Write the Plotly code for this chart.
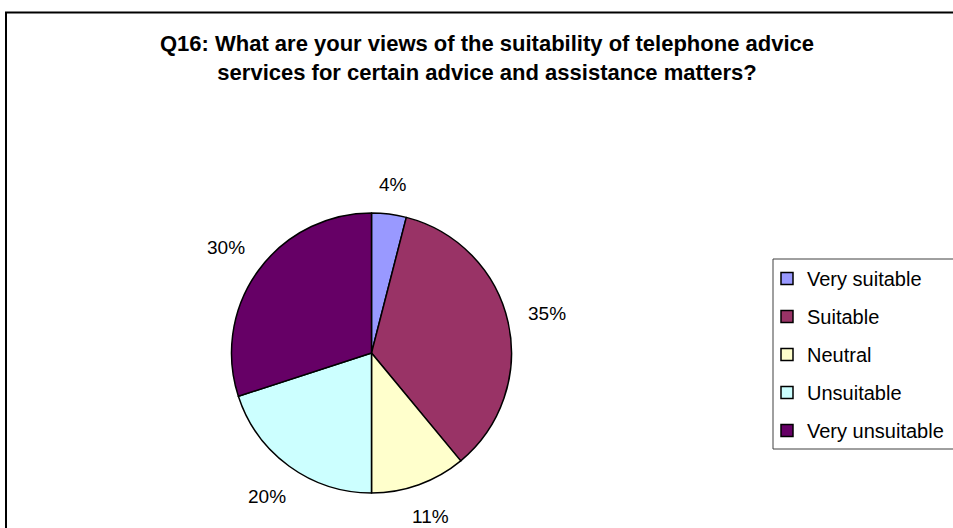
import math
import plotly.graph_objects as go

# Survey responses (percent of respondents)
categories = ["Very suitable", "Suitable", "Neutral", "Unsuitable", "Very unsuitable"]
percentages = [4, 35, 11, 20, 30]
slice_colors = ["#9999FF", "#993366", "#FFFFCC", "#CCFFFF", "#660066"]

title_text = ("<b>Q16: What are your views of the suitability of telephone advice<br>"
              "services for certain advice and assistance matters?</b>")

W, H = 953, 528
FONT = "Arial, Liberation Sans, sans-serif"

fig = go.Figure()

# Pie centred at (371.5, 353) px with a 140 px radius
cx, cy, r = 371.5, 353, 140
fig.add_trace(go.Pie(
    labels=categories,
    values=percentages,
    marker=dict(colors=slice_colors, line=dict(color="black", width=1.5)),
    sort=False,
    direction="clockwise",
    rotation=0,
    textinfo="none",
    showlegend=False,
    hoverinfo="label+percent",
    domain=dict(x=[(cx - r) / W, (cx + r) / W],
                y=[(H - cy - r) / H, (H - cy + r) / H]),
))

# Percentage labels placed outside each slice, at the slice's mid-angle
label_gap = 18
box_w, box_h = 40, 18
total = sum(percentages)
annotations = []
cum = 0.0
for v in percentages:
    mid = (cum + v / 2) / total * 2 * math.pi  # clockwise from 12 o'clock
    cum += v
    sx, sy = math.sin(mid), math.cos(mid)
    dist = r + label_gap + box_w / 2 * abs(sx) + box_h / 2 * abs(sy)
    px = cx + dist * sx
    py = cy - dist * sy
    annotations.append(dict(
        x=px / W, y=1 - py / H, xref="paper", yref="paper",
        text=f"{v}%", showarrow=False, xanchor="center", yanchor="middle",
        font=dict(family=FONT, size=19, color="black"),
    ))

# Legend entries: one square swatch per category
for name, col in zip(categories, slice_colors):
    fig.add_trace(go.Scatter(
        x=[None], y=[None], mode="markers", name=name,
        legendgroup=name,
        marker=dict(symbol="square", size=12, color=col,
                    line=dict(color="black", width=1.5)),
    ))

fig.update_layout(
    width=W, height=H,
    margin=dict(l=0, r=0, t=0, b=0),
    paper_bgcolor="white",
    plot_bgcolor="white",
    xaxis=dict(visible=False),
    yaxis=dict(visible=False),
    title=dict(text=title_text, x=487 / W, xanchor="center",
               y=1 - 51 / H, yanchor="top",
               font=dict(family=FONT, size=22, color="black")),
    legend=dict(x=767 / W, xanchor="left", y=1 - 259 / H, yanchor="top",
                traceorder="grouped", tracegroupgap=9,
                font=dict(family=FONT, size=20, color="black"),
                bgcolor="rgba(0,0,0,0)", borderwidth=0),
    annotations=annotations,
    shapes=[
        # outer chart frame
        dict(type="rect", xref="paper", yref="paper",
             x0=6 / W, x1=1.05, y0=-0.05, y1=1 - 12.5 / H,
             line=dict(color="black", width=2), fillcolor="rgba(0,0,0,0)"),
        # legend box
        dict(type="rect", xref="paper", yref="paper",
             x0=773 / W, x1=1.05, y0=1 - 449 / H, y1=1 - 259 / H,
             line=dict(color="#404040", width=1), fillcolor="rgba(0,0,0,0)"),
    ],
)

fig.write_html("out.html")
